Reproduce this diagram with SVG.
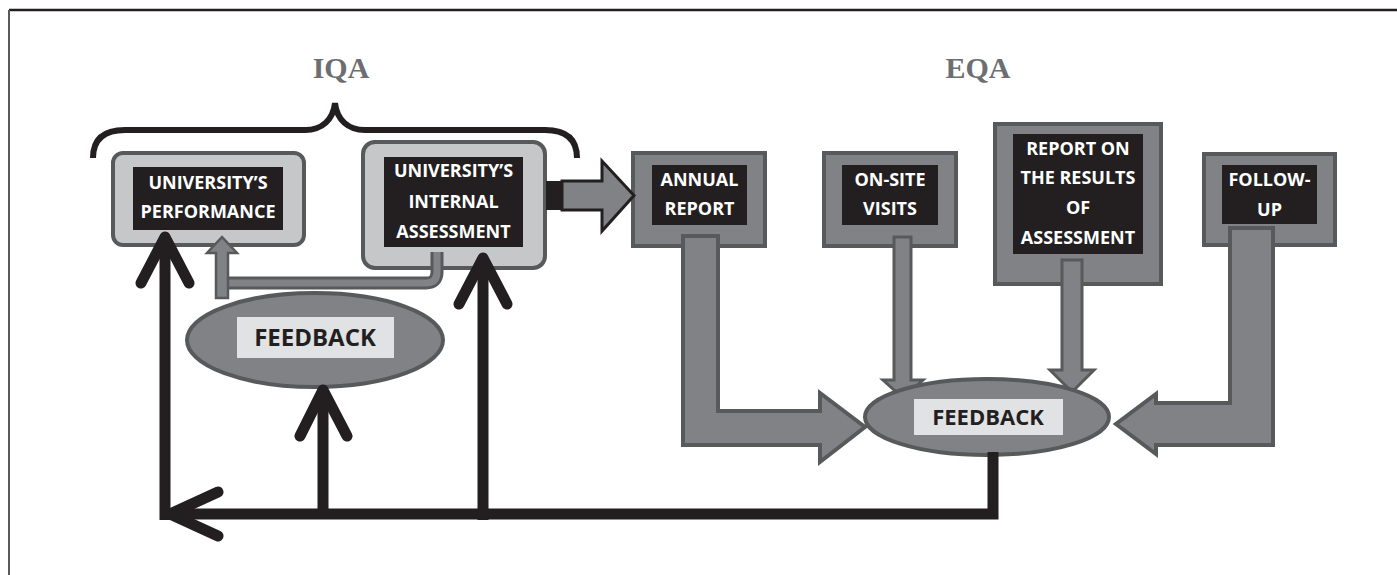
<svg xmlns="http://www.w3.org/2000/svg" width="1397" height="575" viewBox="0 0 1397 575">
<style>
.lbox{fill:#c6c7c9;stroke:#58595b;stroke-width:4}
.gbox{fill:#808285;stroke:#58595b;stroke-width:4}
.ink{fill:#231f20}
.wt{font-family:"Open Sans","Liberation Sans",sans-serif;font-weight:700;font-size:18px;fill:#ffffff;text-anchor:middle}
.fb{font-family:"Open Sans","Liberation Sans",sans-serif;font-weight:700;fill:#231f20;text-anchor:middle}
.ttl{font-family:"Liberation Serif","Times New Roman",serif;font-weight:700;font-size:30px;fill:#6d6e71;text-anchor:middle}
.garrow{fill:#808285;stroke:#58595b;stroke-width:4;stroke-linejoin:miter}
.blk{fill:none;stroke:#231f20;stroke-width:11}
.head{fill:none;stroke:#231f20;stroke-width:11;stroke-linecap:round;stroke-linejoin:round}
.fell{fill:#808285;stroke:#58595b;stroke-width:4}
.flab{fill:#e1e2e4}
</style>
<rect x="0" y="0" width="1397" height="575" fill="#ffffff"/>
<g id="frame">
<line x1="9" y1="10" x2="1397" y2="10" stroke="#231f20" stroke-width="2.5"/>
<line x1="9" y1="10" x2="9" y2="575" stroke="#58595b" stroke-width="2"/>
</g>
<g id="titles">
<text class="ttl" x="341" y="78">IQA</text>
<text class="ttl" x="978" y="78">EQA</text>
</g>
<g id="brace">
<path d="M93,158 C93,140 103,130 125,130 H305 C322,130 333,120 335,103 C337,120 348,130 365,130 H545 C567,130 577,140 577,158" fill="none" stroke="#231f20" stroke-width="6"/>
</g>
<g id="node-performance">
<rect class="lbox" x="113" y="153" width="191" height="92" rx="10"/>
<rect class="ink" x="133" y="167" width="150" height="63"/>
<text class="wt" x="208" y="188.5">UNIVERSITY’S</text>
<text class="wt" x="208" y="217.5">PERFORMANCE</text>
</g>
<g id="node-internal">
<rect class="lbox" x="363" y="142" width="182" height="126" rx="12"/>
<rect class="ink" x="384" y="157" width="139" height="90"/>
<text class="wt" x="453.5" y="176.5">UNIVERSITY’S</text>
<text class="wt" x="453.5" y="207.5">INTERNAL</text>
<text class="wt" x="453.5" y="237.5">ASSESSMENT</text>
</g>
<g id="node-annual">
<rect class="gbox" x="633" y="153" width="132" height="93"/>
<rect class="ink" x="652" y="165" width="95" height="60"/>
<text class="wt" x="699.5" y="185.5">ANNUAL</text>
<text class="wt" x="699.5" y="214.5">REPORT</text>
</g>
<g id="node-onsite">
<rect class="gbox" x="824" y="153" width="132" height="93"/>
<rect class="ink" x="842" y="165" width="96" height="60"/>
<text class="wt" x="890" y="185.5">ON-SITE</text>
<text class="wt" x="890" y="214.5">VISITS</text>
</g>
<g id="node-report">
<rect class="gbox" x="995" y="124" width="166" height="160"/>
<rect class="ink" x="1013" y="134" width="130" height="120"/>
<text class="wt" x="1078" y="154.5">REPORT ON</text>
<text class="wt" x="1078" y="183.5">THE RESULTS</text>
<text class="wt" x="1078" y="213.5">OF</text>
<text class="wt" x="1078" y="243.5">ASSESSMENT</text>
</g>
<g id="node-followup">
<rect class="gbox" x="1204" y="154" width="131" height="91"/>
<rect class="ink" x="1222" y="165" width="95" height="59"/>
<text class="wt" x="1269.5" y="185.5">FOLLOW-</text>
<text class="wt" x="1269.5" y="215.5">UP</text>
</g>
<g id="connectors-grey">
<rect class="ink" x="546" y="181" width="16" height="29"/>
<polygon points="562,181 602,181 602,161 634,195.5 602,231 602,210 562,210" fill="#808285" stroke="#231f20" stroke-width="3"/>
<polygon class="garrow" points="683,236 718,236 718,411 820,411 820,393 865,427 820,462 820,445 683,445"/>
<polygon class="garrow" points="894,237 911,237 911,380 923,380 903,398 883,380 894,380" style="stroke-width:3"/>
<polygon class="garrow" points="1062,260 1082,260 1082,370 1094,370 1072,392 1050,370 1062,370" style="stroke-width:3"/>
<polygon class="garrow" points="1230,228 1273,228 1273,445 1156,445 1156,454 1116,424 1156,394 1156,403 1230,403"/>
<path d="M437,252 V272 Q437,283 426,283 H228" fill="none" stroke="#58595b" stroke-width="13"/>
<path d="M437,252 V272 Q437,283 426,283 H228" fill="none" stroke="#808285" stroke-width="7"/>
<polygon points="216,298 228,298 228,253 237,253 222,237 207,253 216,253" fill="#808285" stroke="#58595b" stroke-width="2.5"/>
</g>
<g id="node-feedback-iqa">
<ellipse class="fell" cx="315" cy="340" rx="128" ry="47"/>
<rect class="flab" x="237" y="317" width="157" height="41"/>
<text class="fb" x="315" y="346" font-size="24">FEEDBACK</text>
</g>
<g id="node-feedback-eqa">
<ellipse class="fell" cx="987" cy="417" rx="122" ry="38"/>
<rect class="flab" x="914" y="399" width="149" height="36"/>
<text class="fb" x="988" y="425" font-size="22">FEEDBACK</text>
</g>
<g id="connectors-black">
<path class="blk" d="M993,452 V514 H160"/>
<line class="blk" x1="165" y1="520" x2="165" y2="240"/>
<line class="blk" x1="323" y1="514" x2="323" y2="394"/>
<line class="blk" x1="483" y1="520" x2="483" y2="262"/>
<polyline class="head" points="141,283 165,237 189,283"/>
<polyline class="head" points="218,492 170,514 218,536"/>
<polyline class="head" points="300,436 323,390 347,436"/>
<polyline class="head" points="459,304 483,258 507,304"/>
</g>
</svg>
